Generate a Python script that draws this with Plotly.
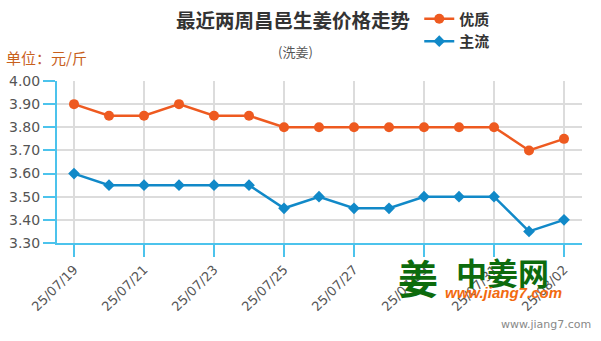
import plotly.graph_objects as go

dates = ["25/07/19", "25/07/20", "25/07/21", "25/07/22", "25/07/23", "25/07/24", "25/07/25",
         "25/07/26", "25/07/27", "25/07/28", "25/07/29", "25/07/30", "25/07/31", "25/08/01", "25/08/02"]
youzhi = [3.90, 3.85, 3.85, 3.90, 3.85, 3.85, 3.80, 3.80, 3.80, 3.80, 3.80, 3.80, 3.80, 3.70, 3.75]
zhuliu = [3.60, 3.55, 3.55, 3.55, 3.55, 3.55, 3.45, 3.50, 3.45, 3.45, 3.50, 3.50, 3.50, 3.35, 3.40]
tick_dates = dates[::2]

ORANGE = "#ee5a20"
BLUE = "#1189c8"
AXIS = "#4cc3ec"

fig = go.Figure()
fig.add_trace(go.Scatter(x=dates, y=youzhi, name="<b>优质</b>", mode="lines+markers",
                         line=dict(color=ORANGE, width=2.5),
                         marker=dict(symbol="circle", size=10, color=ORANGE)))
fig.add_trace(go.Scatter(x=dates, y=zhuliu, name="<b>主流</b>", mode="lines+markers",
                         line=dict(color=BLUE, width=2.5),
                         marker=dict(symbol="diamond", size=9, color=BLUE)))

fig.update_layout(
    width=601, height=341,
    margin=dict(l=57, r=19, t=81, b=98, autoexpand=False),
    plot_bgcolor="white", paper_bgcolor="white",
    font=dict(family="DejaVu Sans", color="#555"),
    showlegend=True,
    legend=dict(x=0.69, y=1.485, xanchor="left", yanchor="top", bgcolor="rgba(0,0,0,0)",
                font=dict(family="Noto Sans CJK SC", size=15, color="#333"),
                itemwidth=30, tracegroupgap=0),
    xaxis=dict(type="category", range=[-0.486, 14.514],
               tickmode="array", tickvals=tick_dates, ticktext=tick_dates,
               tickangle=-45, tickfont=dict(size=13, color="#555"),
               showgrid=True, gridcolor="#dcdcdc", gridwidth=2,
               showline=True, linecolor=AXIS, linewidth=2,
               ticks="outside", tickcolor=AXIS, ticklen=12, tickwidth=2,
               zeroline=False, fixedrange=True),
    yaxis=dict(range=[3.30, 4.00], dtick=0.1, tick0=3.3, tickformat=".2f",
               tickfont=dict(size=14, color="#555"),
               showgrid=True, gridcolor="#dcdcdc", gridwidth=2,
               showline=True, linecolor=AXIS, linewidth=2,
               ticks="outside", tickcolor=AXIS, ticklen=12, tickwidth=2,
               zeroline=False, fixedrange=True),
)

fig.add_annotation(text="<b>最近两周昌邑生姜价格走势</b>", xref="paper", yref="paper",
                   x=(293 - 57) / 525, y=(243 - 19) / 162, xanchor="center", yanchor="middle",
                   showarrow=False, font=dict(family="Noto Sans CJK SC", size=19.5, color="#333"))
fig.add_annotation(text="(洗姜)", xref="paper", yref="paper",
                   x=(295 - 57) / 525, y=(243 - 51) / 162, xanchor="center", yanchor="middle",
                   showarrow=False, font=dict(family="Noto Sans CJK SC", size=13, color="#555"))
fig.add_annotation(text="单位：元/斤", xref="paper", yref="paper",
                   x=(4 - 57) / 525, y=(243 - 57) / 162, xanchor="left", yanchor="middle",
                   showarrow=False, font=dict(family="Noto Sans CJK SC", size=15, color="#c8601c"))
# watermark
fig.add_annotation(text="<b>姜</b>", xref="paper", yref="paper",
                   x=(418 - 57) / 525, y=(243 - 277) / 162, xanchor="center", yanchor="middle",
                   showarrow=False, font=dict(family="Noto Sans CJK SC", size=40, color="#0d6b0d"))
fig.add_annotation(text="<b>中姜网</b>", xref="paper", yref="paper",
                   x=(502 - 57) / 525, y=(243 - 271) / 162, xanchor="center", yanchor="middle",
                   showarrow=False, font=dict(family="Noto Sans CJK SC", size=31, color="#0d6b0d"))
fig.add_annotation(text="<b><i>www.jiang7.com</i></b>", xref="paper", yref="paper",
                   x=(503 - 57) / 525, y=(243 - 292) / 162, xanchor="center", yanchor="middle",
                   showarrow=False, font=dict(family="Liberation Sans", size=15, color="#f26a10"))
fig.add_annotation(text="www.jiang7.com", xref="paper", yref="paper",
                   x=(593 - 57) / 525, y=(243 - 324) / 162, xanchor="right", yanchor="middle",
                   showarrow=False, font=dict(family="DejaVu Sans", size=11, color="#888"))

fig.write_html("out.html")
